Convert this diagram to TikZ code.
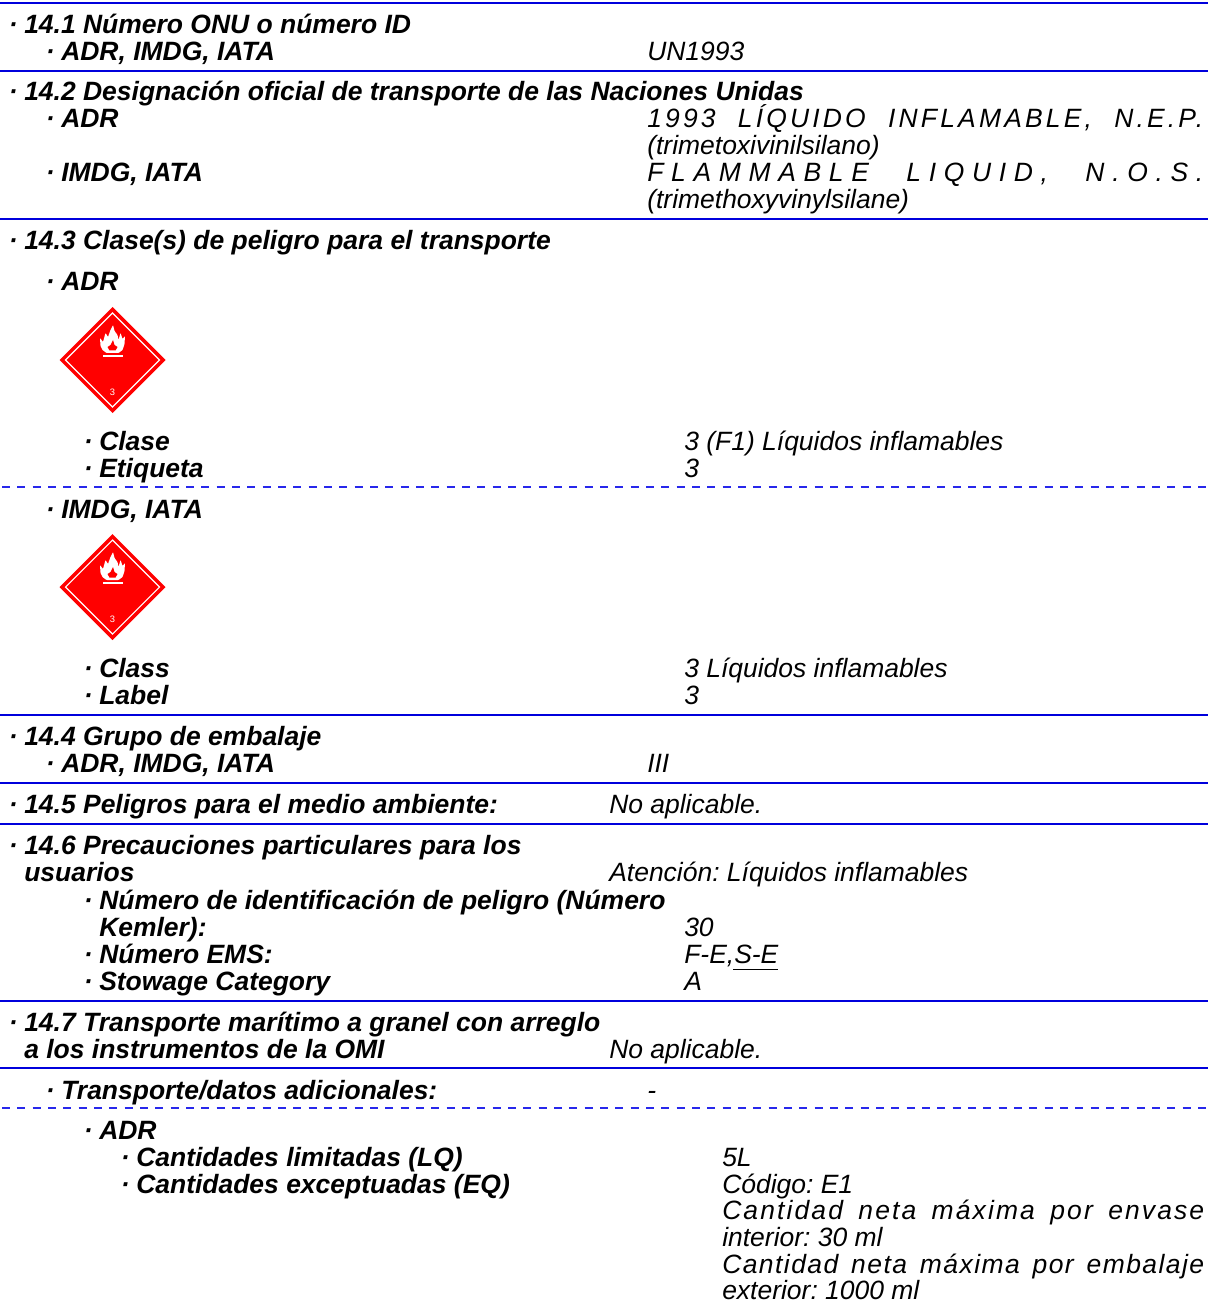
\documentclass[tikz,border=0pt]{standalone}
\usepackage{fontspec}
\setmainfont{Liberation Sans}
\newcommand{\Fnt}{\fontsize{19.85pt}{19.85pt}\selectfont\frenchspacing}
\tikzset{x=0.75pt,y=-0.75pt,
 rule/.style={draw={rgb,255:red,0;green,0;blue,220},line width=1.2pt},
 dashrule/.style={draw={rgb,255:red,40;green,40;blue,235},line width=0.8pt,dash pattern=on 6pt off 5.5pt,dash phase=10pt},
 hd/.style={anchor=base west,inner sep=0pt,font=\Fnt\bfseries\itshape},
 val/.style={anchor=base west,inner sep=0pt,font=\Fnt\itshape},
 dot/.style={anchor=base east,inner sep=0pt,font=\Fnt\bfseries\itshape}}
\newcommand{\Sp}[3]{\makebox[#2][s]{\addfontfeature{LetterSpace=#1}#3}}
\newcommand{\hazard}[2]{%
 \begin{scope}[shift={(#1,#2)}]
  \fill[red] (-53,0)--(0,-53)--(53,0)--(0,53)--cycle;
  \draw[white,line width=0.8pt] (-47,0)--(0,-47)--(47,0)--(0,47)--cycle;
  \fill[white,rounded corners=0.5pt] (0.5,-35)--(2,-29)--(5,-25)--(6,-20)--(8,-27)--(10,-21)--(12.5,-24)--(12,-16)--(10,-10)--(6,-7)--(-6,-7)--(-10,-10)--(-12,-14)--(-12.5,-22)--(-9.5,-18)--(-7,-27)--(-4.5,-23)--(-2,-30)--cycle;
  \fill[red] (0.5,-20)--(2,-15)--(5,-13)--(3,-9.5)--(-3,-9.5)--(-5,-13)--(-2,-15)--cycle;
  \fill[white] (-10,-4.8) rectangle (10,-2.8);
  \node[inner sep=0pt,text=white,font=\fontsize{7pt}{7pt}\selectfont] at (0,32) {3};
 \end{scope}}
\begin{document}
\begin{tikzpicture}
\useasboundingbox (0,0) rectangle (1208,1301);
\fill[white] (0,0) rectangle (1208,1301);
% rules
\coordinate (l1) at (0,3); \coordinate (r1) at (1208,3);
\coordinate (l2) at (0,71); \coordinate (r2) at (1208,71);
\coordinate (l3) at (0,219); \coordinate (r3) at (1208,219);
\coordinate (l4) at (0,715); \coordinate (r4) at (1208,715);
\coordinate (l5) at (0,783); \coordinate (r5) at (1208,783);
\coordinate (l6) at (0,824); \coordinate (r6) at (1208,824);
\coordinate (l7) at (0,1001); \coordinate (r7) at (1208,1001);
\coordinate (l8) at (0,1068); \coordinate (r8) at (1208,1068);
\coordinate (d1) at (0,487); \coordinate (e1) at (1208,487);
\coordinate (d2) at (0,1108); \coordinate (e2) at (1208,1108);
\foreach \i in {1,...,8} \draw[rule] (l\i) -- (r\i);
\draw[dashrule] (d1) -- (e1);
\draw[dashrule] (d2) -- (e2);
% hazard diamonds
\hazard{112.5}{360}
\hazard{112.5}{587}
% text
\node[hd] (a1) at (24,34) {14.1 Número ONU o número ID};
\node[dot] at (18,34) {·};
\node[hd] (a2) at (61,61) {ADR, IMDG, IATA};
\node[dot] at (55,61) {·};
\node[val] (a3) at (647,61) {UN1993};
\node[hd] (b1) at (24,101) {14.2 Designación oficial de transporte de las Naciones Unidas};
\node[dot] at (18,101) {·};
\node[hd] (b2) at (61,128) {ADR};
\node[dot] at (55,128) {·};
\node[val] (b3) at (647,128) {\Sp{12}{417pt}{1993 LÍQUIDO INFLAMABLE, N.E.P.}};
\node[val] (b4) at (647,155) {(trimetoxivinilsilano)};
\node[hd] (b5) at (61,182) {IMDG, IATA};
\node[dot] at (55,182) {·};
\node[val] (b6) at (647,182) {\Sp{29}{417pt}{FLAMMABLE LIQUID, N.O.S.}};
\node[val] (b7) at (647,209) {(trimethoxyvinylsilane)};
\node[hd] (c1) at (24,250) {14.3 Clase(s) de peligro para el transporte};
\node[dot] at (18,250) {·};
\node[hd] (c2) at (61,291) {ADR};
\node[dot] at (55,291) {·};
\node[hd] (c3) at (99,450) {Clase};
\node[dot] at (93,450) {·};
\node[val] (c4) at (684,450) {3 (F1) Líquidos inflamables};
\node[hd] (c5) at (99,477) {Etiqueta};
\node[dot] at (93,477) {·};
\node[val] (c6) at (684,477) {3};
\node[hd] (c7) at (61,518) {IMDG, IATA};
\node[dot] at (55,518) {·};
\node[hd] (c8) at (99,677) {Class};
\node[dot] at (93,677) {·};
\node[val] (c9) at (684,677) {3 Líquidos inflamables};
\node[hd] (c10) at (99,704) {Label};
\node[dot] at (93,704) {·};
\node[val] (c11) at (684,704) {3};
\node[hd] (d3) at (24,745) {14.4 Grupo de embalaje};
\node[dot] at (18,745) {·};
\node[hd] (d4) at (61,772) {ADR, IMDG, IATA};
\node[dot] at (55,772) {·};
\node[val] (d5) at (647,772) {III};
\node[hd] (f1) at (24,813) {14.5 Peligros para el medio ambiente:};
\node[dot] at (18,813) {·};
\node[val] (f2) at (609,813) {No aplicable.};
\node[hd] (g1) at (24,854) {14.6 Precauciones particulares para los};
\node[dot] at (18,854) {·};
\node[hd] (g2) at (24,881) {usuarios};
\node[val] (g3) at (609,881) {Atención: Líquidos inflamables};
\node[hd] (g4) at (99,909) {Número de identificación de peligro (Número};
\node[dot] at (93,909) {·};
\node[hd] (g5) at (99,936) {Kemler):};
\node[val] (g6) at (684,936) {30};
\node[hd] (g7) at (99,963) {Número EMS:};
\node[dot] at (93,963) {·};
\node[val] (g8) at (684,963) {F-E,S-E};
\coordinate (u1) at (733,969); \coordinate (u2) at (778,969);
\draw[black,line width=0.5pt] (u1) -- (u2);
\node[hd] (g9) at (99,990) {Stowage Category};
\node[dot] at (93,990) {·};
\node[val] (g10) at (684,990) {A};
\node[hd] (h1) at (24,1031) {14.7 Transporte marítimo a granel con arreglo};
\node[dot] at (18,1031) {·};
\node[hd] (h2) at (24,1058) {a los instrumentos de la OMI};
\node[val] (h3) at (609,1058) {No aplicable.};
\node[hd] (i1) at (61,1099) {Transporte/datos adicionales:};
\node[dot] at (55,1099) {·};
\node[val] (i2) at (647,1099) {-};
\node[hd] (j1) at (99,1139) {ADR};
\node[dot] at (93,1139) {·};
\node[hd] (j2) at (136,1166) {Cantidades limitadas (LQ)};
\node[dot] at (130,1166) {·};
\node[val] (j3) at (722,1166) {5L};
\node[hd] (j4) at (136,1193) {Cantidades exceptuadas (EQ)};
\node[dot] at (130,1193) {·};
\node[val] (j5) at (722,1193) {Código: E1};
\node[val] (j6) at (722,1219.5) {\Sp{8}{361.5pt}{Cantidad neta máxima por envase}};
\node[val] (j7) at (722,1246.5) {interior: 30 ml};
\node[val] (j8) at (722,1273) {\Sp{5.5}{361.5pt}{Cantidad neta máxima por embalaje}};
\node[val] (j9) at (722,1299) {exterior: 1000 ml};
\end{tikzpicture}
\end{document}
